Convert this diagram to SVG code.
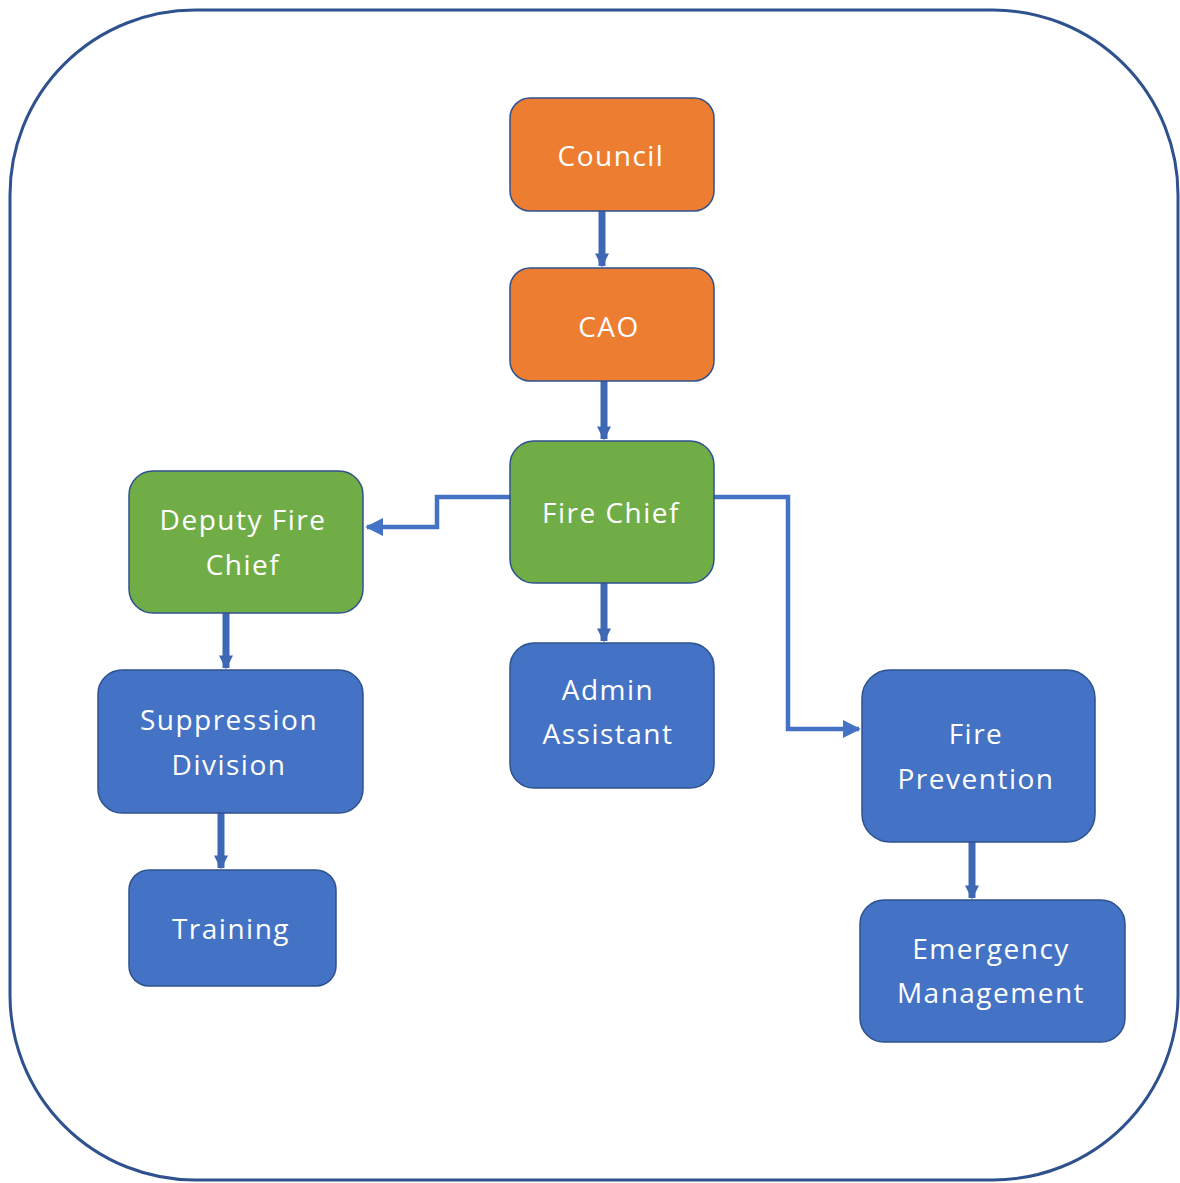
<svg xmlns="http://www.w3.org/2000/svg" width="1180" height="1183" viewBox="0 0 1180 1183">
<defs>
<style>
.frame{fill:#fff;stroke:#2F528F;stroke-width:3}
.node rect{stroke:#2F528F;stroke-width:1.5}
.orange rect{fill:#ED7D31}
.green rect{fill:#70AD47}
.blue rect{fill:#4472C4}
.node text{fill:#fff;font-family:"Open Sans","Noto Sans",sans-serif;font-size:28px;letter-spacing:1.5px;text-anchor:middle}
.v{stroke:#3E68B4;stroke-width:7;fill:none}
.e{stroke:#4472C4;stroke-width:4.5;fill:none}
</style>
<marker id="ah" viewBox="0 0 10 10" refX="9" refY="5" markerWidth="4" markerHeight="4" markerUnits="strokeWidth" orient="auto">
<path d="M0,0 L10,5 L0,10 z" fill="#4472C4"/>
</marker>
<marker id="sh" viewBox="0 0 10 10" refX="9" refY="5" markerWidth="2" markerHeight="2.2" markerUnits="strokeWidth" orient="auto">
<path d="M0,0 L10,5 L0,10 z" fill="#3E68B4"/>
</marker>
</defs>
<rect width="1180" height="1183" fill="#fff"/>
<rect class="frame" x="10" y="10" width="1168" height="1170" rx="185" ry="185"/>
<g id="connectors">
<path class="v" d="M602,211 V266" marker-end="url(#sh)"/>
<path class="v" d="M604,381 V439" marker-end="url(#sh)"/>
<path class="v" d="M604,583 V641" marker-end="url(#sh)"/>
<path class="v" d="M226,613 V668" marker-end="url(#sh)"/>
<path class="v" d="M221,813 V868" marker-end="url(#sh)"/>
<path class="v" d="M972,842 V898" marker-end="url(#sh)"/>
<path class="e" d="M510,497 H437 V527 H367" marker-end="url(#ah)"/>
<path class="e" d="M714,497 H788 V729 H859" marker-end="url(#ah)"/>
</g>
<g id="council" class="node orange"><rect x="510" y="98" width="204" height="113" rx="20"/><text x="611" y="166">Council</text></g>
<g id="cao" class="node orange"><rect x="510" y="268" width="204" height="113" rx="20"/><text x="609" y="337">CAO</text></g>
<g id="fire-chief" class="node green"><rect x="510" y="441" width="204" height="142" rx="24"/><text x="611" y="523">Fire Chief</text></g>
<g id="deputy-fire-chief" class="node green"><rect x="129" y="471" width="234" height="142" rx="24"/><text x="243" y="530">Deputy Fire</text><text x="243" y="575">Chief</text></g>
<g id="admin-assistant" class="node blue"><rect x="510" y="643" width="204" height="145" rx="24"/><text x="608" y="700">Admin</text><text x="608" y="744">Assistant</text></g>
<g id="suppression-division" class="node blue"><rect x="98" y="670" width="265" height="143" rx="24"/><text x="229" y="730">Suppression</text><text x="229" y="775">Division</text></g>
<g id="training" class="node blue"><rect x="129" y="870" width="207" height="116" rx="20"/><text x="231" y="939">Training</text></g>
<g id="fire-prevention" class="node blue"><rect x="862" y="670" width="233" height="172" rx="28"/><text x="976" y="744">Fire</text><text x="976" y="789">Prevention</text></g>
<g id="emergency-management" class="node blue"><rect x="860" y="900" width="265" height="142" rx="24"/><text x="991" y="959">Emergency</text><text x="991" y="1003">Management</text></g>
</svg>
